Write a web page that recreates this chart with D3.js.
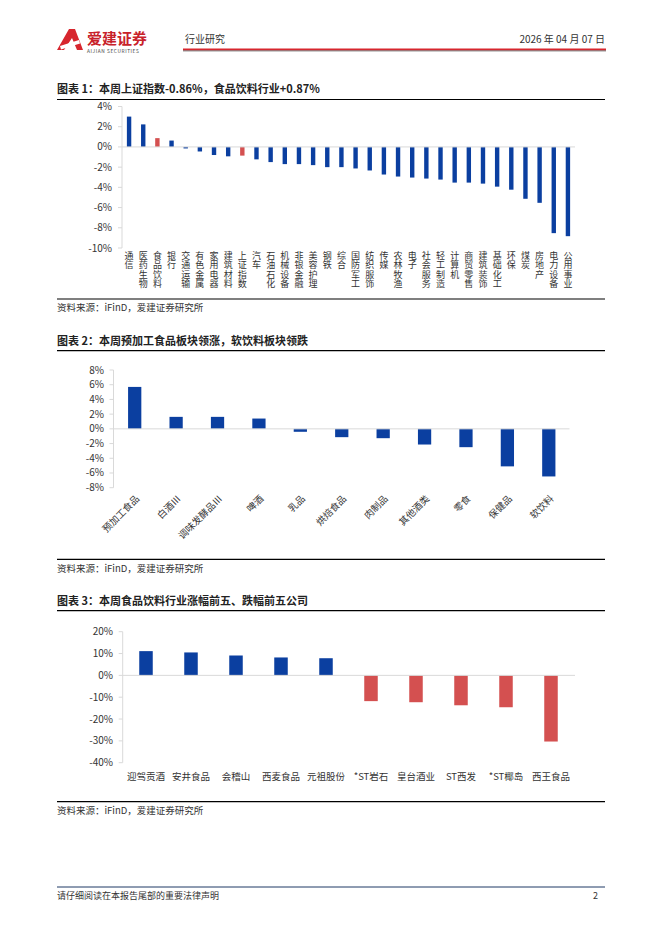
<!DOCTYPE html>
<html><head><meta charset="utf-8">
<script src="https://cdn.jsdelivr.net/npm/d3@7"></script>
<style>
html,body{margin:0;padding:0;background:#fff;}
svg{display:block;font-family:"Noto Sans CJK SC","Noto Sans",sans-serif;}
</style></head>
<body>
<svg id="page" width="662" height="936"></svg>
<script>
// ---- Data ----
const c1Categories = ["通信","医药生物","食品饮料","银行","交通运输","有色金属","家用电器","建筑材料","上证指数","汽车","石油石化","机械设备","非银金融","美容护理","钢铁","综合","国防军工","纺织服饰","传媒","农林牧渔","电子","社会服务","轻工制造","计算机","商贸零售","建筑装饰","基础化工","环保","煤炭","房地产","电力设备","公用事业"];
const c1Values = [3.0,2.23,0.87,0.63,-0.15,-0.45,-0.8,-0.93,-0.86,-1.23,-1.5,-1.7,-1.7,-1.8,-2.0,-2.0,-2.13,-2.33,-2.73,-2.93,-3.03,-3.13,-3.23,-3.53,-3.53,-3.63,-3.93,-4.23,-5.13,-5.53,-8.53,-8.83];
const c1Highlight = ["食品饮料","上证指数"];
const c1Ticks = [4,2,0,-2,-4,-6,-8,-10];

const c2Categories = ["预加工食品","白酒Ⅲ","调味发酵品Ⅲ","啤酒","乳品","烘焙食品","肉制品","其他酒类","零食","保健品","软饮料"];
const c2Values = [5.7,1.63,1.63,1.4,-0.4,-1.13,-1.27,-2.13,-2.49,-5.1,-6.47];
const c2Ticks = [8,6,4,2,0,-2,-4,-6,-8];

const c3Categories = ["迎驾贡酒","安井食品","会稽山","西麦食品","元祖股份","*ST岩石","皇台酒业","ST西发","*ST椰岛","西王食品"];
const c3Values = [11.1,10.5,9.1,8.2,7.85,-11.8,-12.3,-13.7,-14.6,-30.3];
const c3Ticks = [20,10,0,-10,-20,-30,-40];

const BLUE = "#0B3FA0", RED = "#D45050", AXIS = "#D9D9D9", TXT = "#333";

const svg = d3.select("#page");

// ---- Header ----
const hdr = svg.append("g");
hdr.append("path").attr("d","M57,50 L69,29 L75,29 L83,50 L77,50 L72,38 L64,50 Z").attr("fill","#D7262E");
hdr.append("path").attr("d","M60,46 L79,40 L80,43.5 L61,49.5 Z").attr("fill","#fff");
hdr.append("text").attr("x",87).attr("y",44).attr("font-size",15).attr("font-weight","bold").attr("fill","#C8222A").text("爱建证券");
hdr.append("text").attr("x",87).attr("y",52.5).attr("font-size",4.8).attr("fill","#444").attr("letter-spacing",0.6).text("AIJIAN SECURITIES");
hdr.append("text").attr("x",185).attr("y",43).attr("font-size",10).attr("fill",TXT).text("行业研究");
hdr.append("text").attr("x",605).attr("y",43).attr("text-anchor","end").attr("font-size",10).attr("fill",TXT).text("2026 年 04 月 07 日");
hdr.append("rect").attr("x",183).attr("y",48.5).attr("width",423).attr("height",2).attr("fill","#D7262E");
hdr.append("rect").attr("x",183).attr("y",50.5).attr("width",423).attr("height",0.8).attr("fill","#555");

// ---- helpers ----
function titleBlock(y, text, ruleY){
  svg.append("text").attr("x",57).attr("y",y).attr("font-size",11).attr("font-weight","bold").attr("fill","#222").text(text);
  svg.append("line").attr("x1",57).attr("x2",605).attr("y1",ruleY).attr("y2",ruleY).attr("stroke","#000").attr("stroke-width",1.2);
}
function sourceBlock(ruleY, y){
  svg.append("line").attr("x1",57).attr("x2",605).attr("y1",ruleY).attr("y2",ruleY).attr("stroke","#000").attr("stroke-width",1.2);
  svg.append("text").attr("x",57).attr("y",y).attr("font-size",9.5).attr("fill",TXT).text("资料来源：iFinD，爱建证券研究所");
}
function yAxis(g, y, x0, ticks, labelX, fs){
  g.append("line").attr("x1",x0).attr("x2",x0).attr("y1",y(ticks[0])).attr("y2",y(ticks[ticks.length-1])).attr("stroke",AXIS);
  g.selectAll("tk").data(ticks).join("line").attr("x1",x0-4).attr("x2",x0).attr("y1",d=>y(d)).attr("y2",d=>y(d)).attr("stroke",AXIS);
  g.selectAll("tl").data(ticks).join("text").attr("x",labelX).attr("y",d=>y(d)).attr("dy","0.35em")
    .attr("text-anchor","end").attr("font-size",fs).attr("fill",TXT).text(d=>d+"%");
}

// ---- Chart 1 ----
titleBlock(93, "图表 1：本周上证指数-0.86%，食品饮料行业+0.87%", 99.5);
{
  const g = svg.append("g");
  const x = d3.scaleBand().domain(c1Categories).range([122,575]).paddingInner(0.69).paddingOuter(0.345);
  const y = d3.scaleLinear().domain([-10,4]).range([248,106.5]);
  yAxis(g, y, 122, c1Ticks, 112, 10);
  g.selectAll("rect").data(c1Values).join("rect")
    .attr("x",(d,i)=>x(c1Categories[i])).attr("width",x.bandwidth())
    .attr("y",d=>y(Math.max(0,d))).attr("height",d=>Math.abs(y(d)-y(0)))
    .attr("fill",(d,i)=>c1Highlight.includes(c1Categories[i])?RED:BLUE);
  g.append("line").attr("x1",122).attr("x2",575).attr("y1",y(0)).attr("y2",y(0)).attr("stroke",AXIS);
  g.selectAll("text.cat").data(c1Categories).join("text").attr("class","cat")
    .attr("x",d=>x(d)+x.bandwidth()/2).attr("y",251)
    .attr("font-size",9).attr("fill",TXT).attr("letter-spacing",0.3)
    .style("writing-mode","vertical-rl").style("text-orientation","upright")
    .text(d=>d);
}
sourceBlock(299, 311);

// ---- Chart 2 ----
titleBlock(345, "图表 2：本周预加工食品板块领涨，软饮料板块领跌", 350.7);
{
  const g = svg.append("g");
  const x = d3.scaleBand().domain(c2Categories).range([114,569.5]).paddingInner(0.68).paddingOuter(0.34);
  const y = d3.scaleLinear().domain([-8,8]).range([487.7,370]);
  yAxis(g, y, 113.5, c2Ticks, 104, 10);
  g.selectAll("rect").data(c2Values).join("rect")
    .attr("x",(d,i)=>x(c2Categories[i])).attr("width",x.bandwidth())
    .attr("y",d=>y(Math.max(0,d))).attr("height",d=>Math.abs(y(d)-y(0)))
    .attr("fill",BLUE);
  g.append("line").attr("x1",113.5).attr("x2",569.5).attr("y1",y(0)).attr("y2",y(0)).attr("stroke",AXIS);
  g.selectAll("text.cat").data(c2Categories).join("text").attr("class","cat")
    .attr("transform",d=>`translate(${x(d)+x.bandwidth()/2+3},${497}) rotate(-45)`)
    .attr("text-anchor","end").attr("dy","0.35em").attr("font-size",9.5).attr("fill",TXT).text(d=>d);
}
sourceBlock(559.3, 572);

// ---- Chart 3 ----
titleBlock(605, "图表 3：本周食品饮料行业涨幅前五、跌幅前五公司", 610.7);
{
  const g = svg.append("g");
  const x = d3.scaleBand().domain(c3Categories).range([123.5,573.5]).paddingInner(0.7).paddingOuter(0.35);
  const y = d3.scaleLinear().domain([-40,20]).range([762.7,631.7]);
  yAxis(g, y, 122.7, c3Ticks, 113, 10);
  g.selectAll("rect").data(c3Values).join("rect")
    .attr("x",(d,i)=>x(c3Categories[i])).attr("width",x.bandwidth())
    .attr("y",d=>y(Math.max(0,d))).attr("height",d=>Math.abs(y(d)-y(0)))
    .attr("fill",d=>d>=0?BLUE:RED);
  g.append("line").attr("x1",122.7).attr("x2",575).attr("y1",y(0)).attr("y2",y(0)).attr("stroke",AXIS);
  g.selectAll("text.cat").data(c3Categories).join("text").attr("class","cat")
    .attr("x",d=>x(d)+x.bandwidth()/2).attr("y",777).attr("dy","0.35em")
    .attr("text-anchor","middle").attr("font-size",9.5).attr("fill",TXT).text(d=>d);
}
sourceBlock(801.7, 814);

// ---- Footer ----
svg.append("line").attr("x1",57).attr("x2",605).attr("y1",887).attr("y2",887).attr("stroke","#1F3864").attr("stroke-width",1);
svg.append("text").attr("x",57).attr("y",899).attr("font-size",9).attr("fill",TXT).text("请仔细阅读在本报告尾部的重要法律声明");
svg.append("text").attr("x",593).attr("y",899).attr("font-size",9).attr("fill",TXT).text("2");
</script>
</body></html>
